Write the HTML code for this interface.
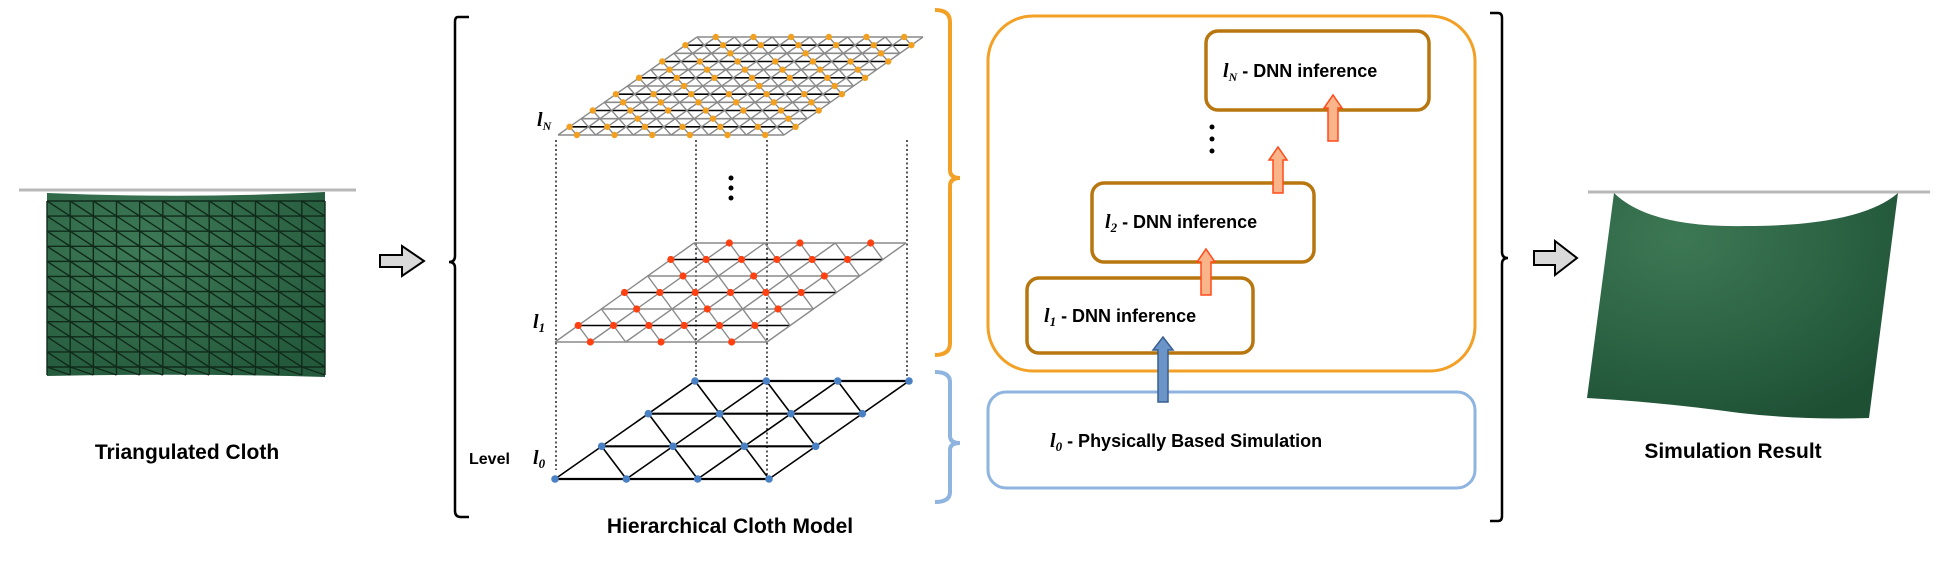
<!DOCTYPE html>
<html><head><meta charset="utf-8"><style>
html,body{margin:0;padding:0;background:#fff;}
body{width:1958px;height:567px;overflow:hidden;position:relative;font-family:"Liberation Sans",sans-serif;}
svg{position:absolute;left:0;top:0;}
</style></head><body>
<svg id="s" width="1958" height="567" viewBox="0 0 1958 567" xmlns="http://www.w3.org/2000/svg">
<defs>
<radialGradient id="g1" cx="0.35" cy="0.3" r="0.8"><stop offset="0" stop-color="#3e7a57"/><stop offset="1" stop-color="#245a3c"/></radialGradient>
<radialGradient id="g2" cx="0.3" cy="0.2" r="0.9"><stop offset="0" stop-color="#3d7854"/><stop offset="0.6" stop-color="#2a6142"/><stop offset="1" stop-color="#1e5034"/></radialGradient>
</defs>
<!-- left cloth -->
<line x1="19" y1="190" x2="356" y2="190" stroke="#b8b8b8" stroke-width="3"/>
<path d="M47,193 Q186,199 325,192 L325,377 Q186,373 47,376 Z" fill="url(#g1)"/>
<g id="lc" stroke="#102a1a" stroke-width="1.4"></g>
<!-- left arrow -->
<path d="M380,255 L402,255 L402,246 L424,261 L402,276 L402,267 L380,267 Z" fill="#d9d9d9" stroke="#000" stroke-width="2"/>
<!-- left bracket -->
<path d="M469,17 L458,17 Q455,17 455,22 L455,256 Q455,262 449,262 Q455,262 455,268 L455,511 Q455,517 461,517 L469,517" fill="none" stroke="#000" stroke-width="2.5"/>
<g id="grids"></g>
<!-- labels -->
<text x="537" y="126" font-family="Liberation Serif" font-style="italic" font-weight="bold" font-size="20">l<tspan font-size="12" dy="4">N</tspan></text>
<text x="533" y="328" font-family="Liberation Serif" font-style="italic" font-weight="bold" font-size="20">l<tspan font-size="13" dy="4">1</tspan></text>
<text x="469" y="464" font-weight="bold" font-size="16">Level</text>
<text x="533" y="464" font-family="Liberation Serif" font-style="italic" font-weight="bold" font-size="20">l<tspan font-size="13" dy="4">0</tspan></text>
<circle cx="731" cy="178" r="2.5"/><circle cx="731" cy="188" r="2.5"/><circle cx="731" cy="198" r="2.5"/>
<text x="187" y="459" text-anchor="middle" font-weight="bold" font-size="21">Triangulated Cloth</text>
<text x="730" y="533" text-anchor="middle" font-weight="bold" font-size="21">Hierarchical Cloth Model</text>
<!-- orange bracket -->
<path d="M935,10 Q950,10 950,22 L950,170 Q950,178 960,178 Q950,178 950,186 L950,343 Q950,355 935,355" fill="none" stroke="#f2a126" stroke-width="4"/>
<!-- blue bracket -->
<path d="M935,372 Q950,372 950,382 L950,436 Q950,443 960,443 Q950,443 950,450 L950,492 Q950,502 935,502" fill="none" stroke="#8eb4df" stroke-width="4"/>
<!-- boxes -->
<rect x="988" y="16" width="487" height="355" rx="45" fill="none" stroke="#f2a126" stroke-width="3"/>
<rect x="988" y="392" width="487" height="96" rx="18" fill="none" stroke="#8eb4df" stroke-width="3"/>
<rect x="1206" y="31" width="223" height="79" rx="12" fill="#fff" stroke="#b8760e" stroke-width="3.5"/>
<rect x="1092" y="183" width="222" height="79" rx="12" fill="#fff" stroke="#b8760e" stroke-width="3.5"/>
<rect x="1027" y="278" width="226" height="75" rx="12" fill="#fff" stroke="#b8760e" stroke-width="3.5"/>
<g font-weight="bold" font-size="18">
<text x="1223" y="77"><tspan font-family="Liberation Serif" font-style="italic" font-size="20">l</tspan><tspan font-family="Liberation Serif" font-style="italic" font-size="12" dy="4">N</tspan><tspan dy="-4"> - DNN inference</tspan></text>
<text x="1105" y="228"><tspan font-family="Liberation Serif" font-style="italic" font-size="20">l</tspan><tspan font-family="Liberation Serif" font-style="italic" font-size="13" dy="4">2</tspan><tspan dy="-4"> - DNN inference</tspan></text>
<text x="1044" y="322"><tspan font-family="Liberation Serif" font-style="italic" font-size="20">l</tspan><tspan font-family="Liberation Serif" font-style="italic" font-size="13" dy="4">1</tspan><tspan dy="-4"> - DNN inference</tspan></text>
<text x="1050" y="447"><tspan font-family="Liberation Serif" font-style="italic" font-size="20">l</tspan><tspan font-family="Liberation Serif" font-style="italic" font-size="13" dy="4">0</tspan><tspan dy="-4"> -   Physically Based Simulation</tspan></text>
</g>
<circle cx="1212" cy="127" r="2.5"/><circle cx="1212" cy="139" r="2.5"/><circle cx="1212" cy="151" r="2.5"/>
<!-- arrows -->
<g stroke="#ff4a1a" stroke-width="1.5" fill="#f9b48a">
<path d="M1201,295 L1201,262 L1197,262 L1206,249 L1215,262 L1211,262 L1211,295 Z"/>
<path d="M1273,193 L1273,160 L1269,160 L1278,147 L1287,160 L1283,160 L1283,193 Z"/>
<path d="M1328,141 L1328,108 L1324,108 L1333,95 L1342,108 L1338,108 L1338,141 Z"/>
</g>
<path d="M1158,402 L1158,350 L1153,350 L1163,337 L1173,350 L1168,350 L1168,402 Z" fill="#6b95c9" stroke="#3a5f90" stroke-width="1.5"/>
<!-- right bracket -->
<path d="M1490,13 L1498,13 Q1502,13 1502,18 L1502,252 Q1502,258 1508,258 Q1502,258 1502,264 L1502,516 Q1502,521 1498,521 L1490,521" fill="none" stroke="#000" stroke-width="2.5"/>
<path d="M1534,251 L1555,251 L1555,241 L1577,258 L1555,275 L1555,265 L1534,265 Z" fill="#d9d9d9" stroke="#000" stroke-width="2"/>
<!-- right cloth -->
<line x1="1588" y1="192" x2="1930" y2="192" stroke="#b8b8b8" stroke-width="3"/>
<path d="M1614,193 Q1650,228 1745,226 Q1860,226 1898,193 L1869,418 Q1800,420 1740,413 Q1660,402 1587,398 Z" fill="url(#g2)"/>
<text x="1733" y="458" text-anchor="middle" font-weight="bold" font-size="21">Simulation Result</text>
</svg>
<script>
var NS="http://www.w3.org/2000/svg";
function el(p,t,a){var e=document.createElementNS(NS,t);for(var k in a)e.setAttribute(k,a[k]);p.appendChild(e);return e;}
// left cloth grid
var lc=document.getElementById('lc');
var x0=47,x1=325,y0=201,y1=367,n=12,m=12;
var cw=(x1-x0)/n,ch=(y1-y0)/(m-1);
for(var i=0;i<=n;i++)el(lc,'line',{x1:x0+i*cw,y1:y0,x2:x0+i*cw,y2:y1+8});
for(var j=0;j<m;j++)el(lc,'line',{x1:x0,y1:y0+j*ch,x2:x1,y2:y0+j*ch});
for(var j=0;j<m;j++)for(var i=0;i<n;i++)el(lc,'line',{x1:x0+i*cw,y1:y0+j*ch,x2:x0+(i+1)*cw,y2:Math.min(y0+(j+1)*ch,y1+8)});
var g=document.getElementById('grids');
// dotted verticals
[[556,140,470],[696,140,381],[767,140,476],[907,140,381]].forEach(function(v){el(g,'line',{x1:v[0],y1:v[1],x2:v[0],y2:v[2],stroke:'#000','stroke-width':1.3,'stroke-dasharray':'2,2.5'});});
function grid(bx,by,W,dx,H,n,gray,blackRows,dotCol,dotFn,r){
  var gg=el(g,'g',{});
  function P(u,v){return [bx+u/n*W+v/n*dx, by-v/n*H];}
  var c=gray?'#8a8a8a':'#000';
  for(var v=0;v<=n;v++){var a=P(0,v),b=P(n,v);el(gg,'line',{x1:a[0],y1:a[1],x2:b[0],y2:b[1],stroke:(blackRows&&blackRows(v))?'#000':c,'stroke-width':gray?1.6:2.2});}
  for(var u=0;u<=n;u++){var a=P(u,0),b=P(u,n);el(gg,'line',{x1:a[0],y1:a[1],x2:b[0],y2:b[1],stroke:c,'stroke-width':gray?1.4:1.6});}
  for(var s=1;s<2*n;s++){var u0=Math.max(0,s-n),u1=Math.min(n,s);var a=P(u0,s-u0),b=P(u1,s-u1);el(gg,'line',{x1:a[0],y1:a[1],x2:b[0],y2:b[1],stroke:c,'stroke-width':gray?1.4:1.6});}
  for(var v=0;v<=n;v++)for(var u=0;u<=n;u++)if(dotFn(u,v)){var p=P(u,v);el(gg,'circle',{cx:p[0],cy:p[1],r:r,fill:dotCol});}
}
grid(558,135,226,139,98,12,true,function(v){return v%2==1;},'#f2a020',function(u,v){return (v%2==1)? (u%2==0): (u%2==1 && v%4!=2)||(u%4==3);},3.2);
grid(555,342,212,139,99,6,true,function(v){return v%2==1;},'#ff4010',function(u,v){return (v%2==1)?(u<6):((u+v)%2==1);},3.6);
grid(555,479,214,140,98,3,false,null,'#4a80c4',function(u,v){return true;},3.8);
</script>
</body></html>
